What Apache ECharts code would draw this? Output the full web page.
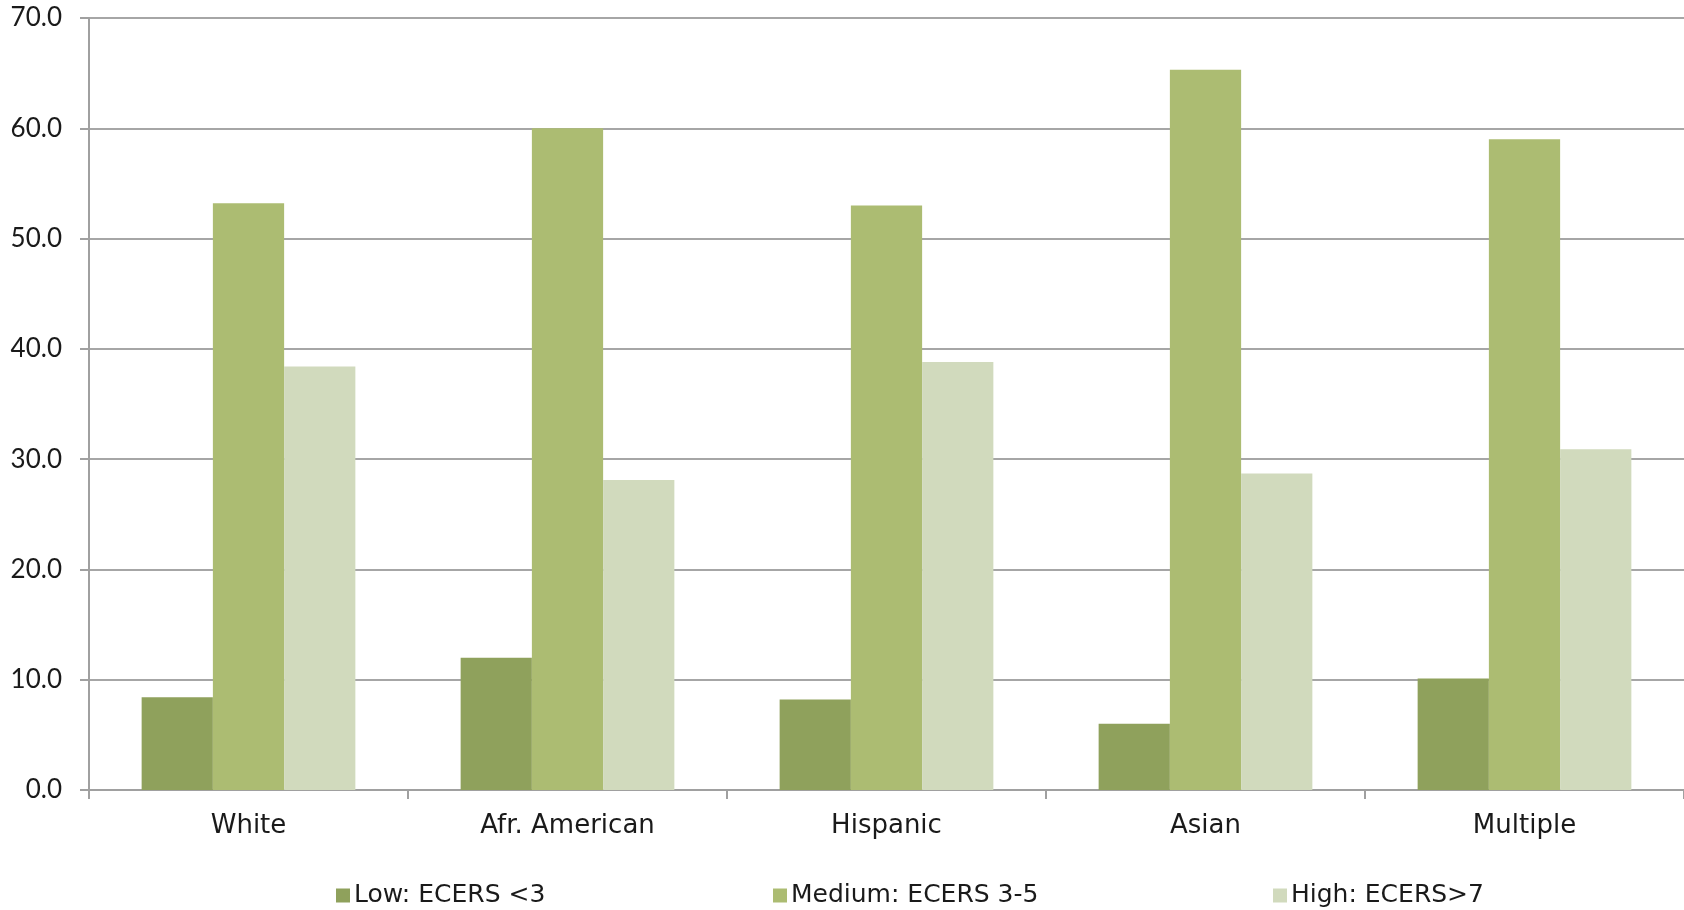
<!DOCTYPE html>
<html><head><meta charset="utf-8">
<script src="https://cdn.jsdelivr.net/npm/echarts@6/dist/echarts.min.js"></script>
<style>html,body{margin:0;padding:0;background:#fff}#c{width:1684px;height:910px}</style>
</head><body><div id="c"></div>
<script>
const categories = ['White', 'Afr. American', 'Hispanic', 'Asian', 'Multiple'];
const seriesNames = ['Low: ECERS <3', 'Medium: ECERS 3-5', 'High: ECERS>7'];
const lowValues = [8.4, 12.0, 8.2, 6.0, 10.1];
const mediumValues = [53.2, 60.0, 53.0, 65.3, 59.0];
const highValues = [38.4, 28.1, 38.8, 28.7, 30.9];
const yTicks = [0, 10, 20, 30, 40, 50, 60, 70];

const colors = ['#8FA15C', '#ACBC72', '#D1DABD'];
const font = '"DejaVu Sans", sans-serif';
const yFont = 'Lato, "DejaVu Sans", sans-serif';
const chart = echarts.init(document.getElementById('c'));
const values = [lowValues, mediumValues, highValues];
const legendLefts = [336, 773, 1273];
chart.setOption({
  animation: false,
  grid: {left: 89, right: -2, top: 18, bottom: 120, containLabel: false},
  legend: seriesNames.map((n, i) => ({
    data: [n], left: legendLefts[i], top: 883, padding: 0, itemWidth: 14, itemHeight: 14, itemGap: 0,
    icon: 'rect', textStyle: {fontFamily: font, fontSize: 25, color: '#1a1a1a', padding: [0,0,0,-1]}
  })),
  xAxis: {
    type: 'category', data: categories,
    axisLine: {lineStyle: {color: '#a0a0a0', width: 2}},
    axisTick: {show: true, length: 9, lineStyle: {color: '#a0a0a0', width: 2}},
    axisLabel: {fontFamily: font, fontSize: 26, color: '#1a1a1a', margin: 23}
  },
  yAxis: {
    type: 'value', min: 0, max: 70, interval: 10,
    axisLine: {show: true, lineStyle: {color: '#a0a0a0', width: 2}},
    axisTick: {show: true, length: 9, lineStyle: {color: '#a0a0a0', width: 2}},
    splitLine: {lineStyle: {color: '#a6a6a6', width: 2}},
    axisLabel: {fontFamily: yFont, fontSize: 26, color: '#1a1a1a', margin: 27,
      formatter: v => yTicks.includes(v) ? v.toFixed(1) : ''}
  },
  series: seriesNames.map((n, i) => ({
    name: n, type: 'bar', data: values[i], barGap: '0%', barCategoryGap: '33%',
    itemStyle: {color: colors[i]}
  }))
});
</script></body></html>
